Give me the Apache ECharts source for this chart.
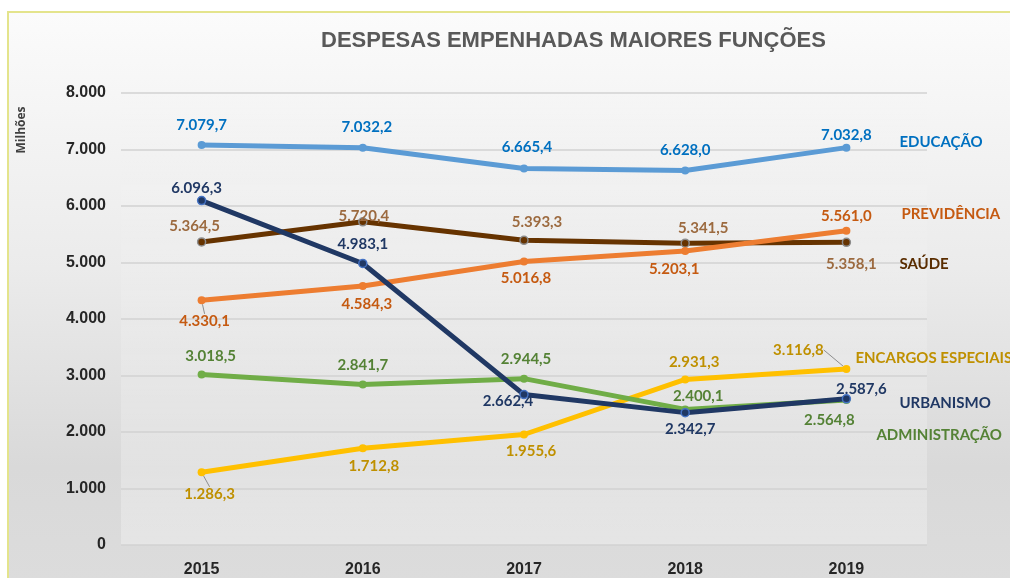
<!DOCTYPE html>
<html>
<head>
<meta charset="utf-8">
<script src="https://cdn.jsdelivr.net/npm/echarts@6/dist/echarts.min.js"></script>
<style>
  html, body { margin: 0; padding: 0; background: #fff; overflow: hidden; width: 1010px; height: 578px; }
  #frame {
    position: absolute; left: 7px; top: 11px; width: 1003px; height: 567px;
    border-left: 2px solid #e4e48c; border-top: 2px solid #e4e48c;
    background: linear-gradient(to bottom, #fbfbfb 0%, #ebebeb 45%, #d9d9d9 80%, #dcdcdc 100%);
  }
  #chart { position: absolute; left: 0; top: 0; width: 1010px; height: 578px; }
</style>
</head>
<body>
<div id="frame"></div>
<div id="chart"></div>
<script>
init();

function init() {

  // dados (milhões de R$)
  var anos = ['2015', '2016', '2017', '2018', '2019'];
  var educacao = [7079.7, 7032.2, 6665.4, 6628.0, 7032.8];
  var previdencia = [4330.1, 4584.3, 5016.8, 5203.1, 5561.0];
  var saude = [5364.5, 5720.4, 5393.3, 5341.5, 5358.1];
  var urbanismo = [6096.3, 4983.1, 2662.4, 2342.7, 2587.6];
  var encargos = [1286.3, 1712.8, 1955.6, 2931.3, 3116.8];
  var administracao = [3018.5, 2841.7, 2944.5, 2400.1, 2564.8];

  // deslocamento dos rótulos em relação ao ponto [dx, dy]
  var offEducacao = [[0, -20], [4, -21], [3, -21], [0, -20], [0, -12]];
  var offPrevidencia = [[3, 21], [4, 18], [2, 17], [-11, 18], [0, -15]];
  var offSaude = [[-7, -16], [1, -6], [13, -18], [18, -15], [5, 22]];
  var offUrbanismo = [[-5, -12], [0, -19], [-16, 7], [5, 17], [15, -10]];
  var offEncargos = [[8, 22], [11, 18], [7, 17], [9, -17], [-48, -19]];
  var offAdministracao = [[9, -18], [0, -19], [2, -19], [13, -13], [-17, 20]];
  // rótulos com linha de chamada
  var comLinha = { 'PREVIDÊNCIA': [0], 'ENCARGOS ESPECIAIS': [0, 4] };

  function fmt(v) {
    var s = v.toFixed(1).split('.');
    return s[0].replace(/\B(?=(\d{3})+(?!\d))/g, '.') + ',' + s[1];
  }

  function serie(nome, valores, offs, cor, corRotulo, corNome, nomeOff, extra) {
    var linhas = comLinha[nome] || [];
    var dados = valores.map(function(v, i) {
      return {
        value: v,
        labelLine: { show: linhas.indexOf(i) >= 0 }
      };
    });
    var s = {
      name: nome,
      type: 'line',
      data: dados,
      symbol: 'circle',
      symbolSize: 8,
      lineStyle: { color: cor, width: 5 },
      itemStyle: { color: cor },
      label: {
        show: true,
        position: 'inside',
        color: corRotulo,
        fontFamily: 'Lato',
        fontWeight: 'bold',
        fontSize: 15,
        formatter: function(p) { return fmt(p.value); }
      },
      labelLine: {
        show: false,
        lineStyle: { color: '#8c8c8c', width: 1 }
      },
      labelLayout: function(p) {
        var o = offs[p.dataIndex];
        if (!o) return {};
        return { dx: o[0], dy: o[1] };
      },
      endLabel: {
        show: true,
        formatter: nome,
        color: corNome,
        fontFamily: 'Lato',
        fontWeight: 'bold',
        fontSize: 15,
        distance: 0,
        align: 'left',
        verticalAlign: 'middle',
        offset: nomeOff
      },
      emphasis: { disabled: true }
    };
    if (extra) s.itemStyle = extra;
    return s;
  }

  var chart = echarts.init(document.getElementById('chart'));
  chart.setOption({
    animation: false,
    backgroundColor: 'transparent',
    title: {
      text: 'DESPESAS EMPENHADAS MAIORES FUNÇÕES',
      left: 316,
      top: 25,
      textStyle: {
        fontFamily: 'Liberation Sans',
        fontWeight: 'bold',
        fontSize: 22,
        color: '#595959'
      }
    },
    graphic: [{
      type: 'text',
      x: 22,
      y: 130,
      rotation: Math.PI / 2,
      style: {
        text: 'Milhões',
        fill: '#404040',
        font: 'bold 12px "Open Sans"',
        textAlign: 'center',
        textVerticalAlign: 'middle'
      }
    }],
    grid: {
      left: 121,
      right: 83,
      top: 93,
      bottom: 29,
      show: true,
      borderWidth: 0,
      backgroundColor: new echarts.graphic.LinearGradient(0, 0, 0, 1, [
        { offset: 0, color: 'rgba(255,255,255,0)' },
        { offset: 1, color: 'rgba(255,255,255,0.3)' }
      ])
    },
    xAxis: {
      type: 'category',
      data: anos,
      boundaryGap: true,
      axisLine: { show: false },
      axisTick: { show: false },
      axisLabel: {
        margin: 17,
        color: '#262626',
        fontFamily: 'Liberation Sans',
        fontWeight: 'bold',
        fontSize: 16
      }
    },
    yAxis: {
      type: 'value',
      min: 0,
      max: 8000,
      interval: 1000,
      axisLine: { show: false },
      axisTick: { show: false },
      splitLine: { lineStyle: { color: '#d2d2d2', width: 1.5 } },
      axisLabel: {
        margin: 15,
        color: '#262626',
        fontFamily: 'Liberation Sans',
        fontWeight: 'bold',
        fontSize: 16,
        formatter: function(v) {
          return String(v).replace(/\B(?=(\d{3})+(?!\d))/g, '.');
        }
      }
    },
    series: [
      serie('SAÚDE', saude, offSaude, '#663300', '#9c6a3f', '#5a2d00', [53, 22],
        { color: '#663300', borderColor: '#8c8c8c', borderWidth: 1.5 }),
      serie('PREVIDÊNCIA', previdencia, offPrevidencia, '#ed7d31', '#c55a11', '#c55a11', [55, -17]),
      serie('ENCARGOS ESPECIAIS', encargos, offEncargos, '#ffc000', '#bf9000', '#bf9000', [9, -11]),
      serie('ADMINISTRAÇÃO', administracao, offAdministracao, '#70ad47', '#548235', '#548235', [30, 35]),
      serie('URBANISMO', urbanismo, offUrbanismo, '#203864', '#203864', '#203864', [53, 4],
        { color: '#203864', borderColor: '#4472c4', borderWidth: 1.5 }),
      serie('EDUCAÇÃO', educacao, offEducacao, '#5b9bd5', '#0070c0', '#0070c0', [53, -5])
    ]
  });
}
</script>
</body>
</html>
